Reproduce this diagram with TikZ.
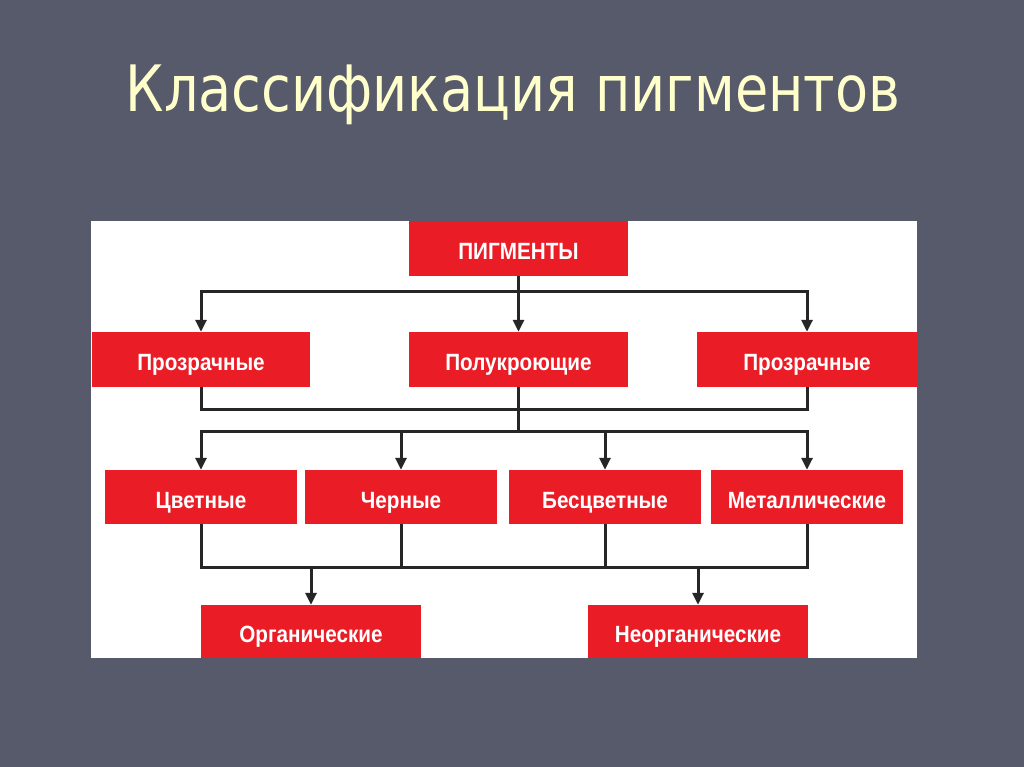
\documentclass[tikz,border=0pt]{standalone}
\usepackage{fontspec}
\setmainfont{Liberation Sans}
\newfontfamily\titlefont[FakeStretch=0.845]{DejaVu Sans}
\newfontfamily\boxfont[FakeStretch=0.88]{Liberation Sans}
\usetikzlibrary{arrows.meta}
\definecolor{slate}{HTML}{575A6A}
\definecolor{boxred}{HTML}{EA1D27}
\definecolor{cream}{HTML}{FFFFCC}
\tikzset{
  kind/.style={fill=boxred, text=white, inner sep=0pt, minimum height=55pt,
    text height=22pt, text depth=0pt,
    font=\boxfont\fontsize{23.5}{26}\bfseries},
  link/.style={line width=3pt, black!85},
  arr/.style={link, -{Triangle[length=12pt,width=11pt]}}
}
\begin{document}
\begin{tikzpicture}[x=1pt, y=-1pt]
  \fill[slate] (0,0) rectangle (1024,767);
  \useasboundingbox (0,0) rectangle (1024,767);
  \fill[white] (91,221) rectangle (917,658);
  % title
  \node[anchor=base, text=cream, font=\titlefont\fontsize{64}{70}\selectfont]
    (title) at (513,112) {Классификация пигментов};
  % boxes
  \node[kind, minimum width=219pt] (pig) at (518.5,248.5) {ПИГМЕНТЫ};
  \node[kind, minimum width=218pt] (tr1) at (201,359.5) {Прозрачные};
  \node[kind, minimum width=219pt] (semi) at (518.5,359.5) {Полукроющие};
  \node[kind, minimum width=220pt] (tr2) at (807,359.5) {Прозрачные};
  \node[kind, minimum width=192pt, minimum height=54pt] (col) at (201,497) {Цветные};
  \node[kind, minimum width=192pt, minimum height=54pt] (blk) at (401,497) {Черные};
  \node[kind, minimum width=192pt, minimum height=54pt] (nocol) at (605,497) {Бесцветные};
  \node[kind, minimum width=192pt, minimum height=54pt] (met) at (807,497) {Металлические};
  \node[kind, minimum width=220pt, minimum height=53pt] (org) at (311,631.5) {Органические};
  \node[kind, minimum width=220pt, minimum height=53pt] (inorg) at (698,631.5) {Неорганические};
  % junctions
  \coordinate (j1) at (518.5,291);
  \coordinate (j2) at (518.5,409);
  \coordinate (j3) at (518.5,431);
  \coordinate (j4) at (505,567);
  % connectors
  \draw[link] (pig) -- (j1);
  \draw[arr] (j1) -| (tr1);
  \draw[arr] (j1) -| (tr2);
  \draw[arr] (j1) -- (semi);
  \draw[link] (tr1) |- (j2) -| (tr2);
  \draw[link] (semi) -- (j3);
  \draw[arr] (j3) -| (col);
  \draw[arr] (j3) -| (blk);
  \draw[arr] (j3) -| (nocol);
  \draw[arr] (j3) -| (met);
  \draw[link] (col) |- (j4) -| (met);
  \draw[link] (blk) -- (blk |- j4);
  \draw[link] (nocol) -- (nocol |- j4);
  \draw[arr] (org |- j4) -- (org);
  \draw[arr] (inorg |- j4) -- (inorg);
\end{tikzpicture}
\end{document}
